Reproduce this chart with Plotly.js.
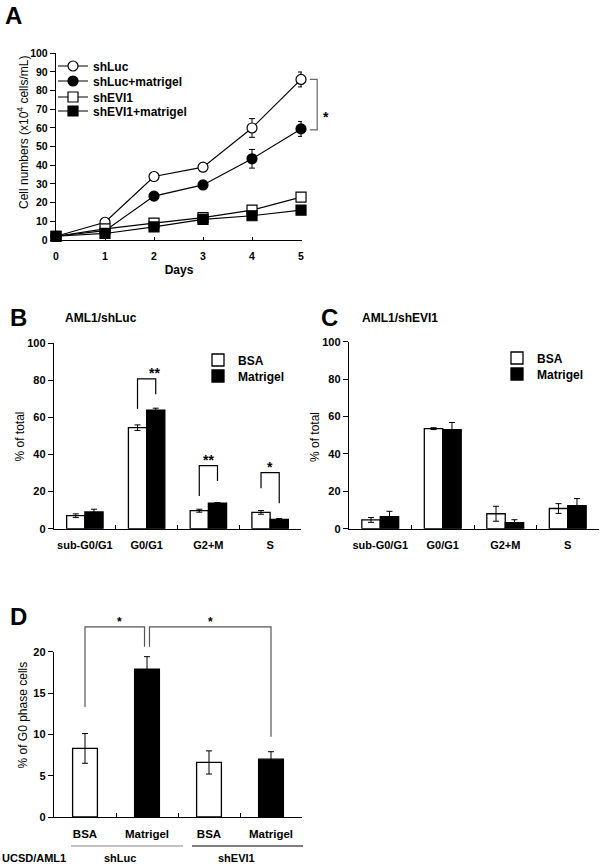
<!DOCTYPE html>
<html><head><meta charset="utf-8">
<script src="https://cdn.plot.ly/plotly-3.0.1.min.js"></script>
<style>html,body{margin:0;padding:0;background:#fff}#chart{width:603px;height:866px}</style>
</head><body><div id="chart"></div>
<script>
// ---- Panel A data ----
const days = [0, 1, 2, 3, 4, 5];
const shLuc = [2, 9.5, 34, 39, 60, 86];
const shLucErr = [0.5, 1, 1.2, 0.8, 5, 4];
const shLucMat = [2, 5, 23.5, 29.5, 43.5, 59.5];
const shLucMatErr = [0.5, 0.8, 1.5, 1, 5, 4];
const shEVI1 = [2, 6, 9, 12, 16, 23];
const shEVI1Err = [0.5, 0.5, 0.8, 0.8, 1, 1];
const shEVI1Mat = [2, 3.5, 7, 11, 13, 16];
const shEVI1MatErr = [0.5, 0.8, 1, 1, 1, 1];

// ---- Panels B / C data ----
const phases = ['sub-G0/G1', 'G0/G1', 'G2+M', 'S'];
const bBSA = [7, 54.5, 9.7, 8.8];
const bBSAErr = [1, 1.5, 0.8, 1];
const bMat = [9, 64, 13.8, 5];
const bMatErr = [1.5, 1, 0.3, 0.5];
const cBSA = [4.7, 53.5, 8, 10.8];
const cBSAErr = [1.3, 0.5, 4, 2.6];
const cMat = [6.5, 53, 3.3, 12.3];
const cMatErr = [2.8, 3.8, 1.5, 3.8];

// ---- Panel D data ----
const dGroups = ['shLuc BSA', 'shLuc Matrigel', 'shEVI1 BSA', 'shEVI1 Matrigel'];
const dLabels = ['BSA', 'Matrigel', 'BSA', 'Matrigel'];
const dColors = ['#ffffff', '#000000', '#ffffff', '#000000'];
const dG0 = [8.3, 17.9, 6.6, 7.0];
const dG0Err = [1.8, 1.5, 1.4, 0.9];

const W = 603, H = 866;
const fx = p => p / W;
const fy = p => 1 - p / H;
const FONT = 'Liberation Sans, Arial, sans-serif';

const dom = {
  xA: [fx(56), fx(302)], yA: [fy(240), fy(53.3)], rxA: [0, 5.02], ryA: [0, 100],
  xB: [fx(54), fx(301)], yB: [fy(528.7), fy(343.3)], rxB: [-0.5, 3.5], ryB: [0, 100],
  xC: [fx(349), fx(599)], yC: [fy(528.7), fy(341.7)], rxC: [-0.5, 3.5], ryC: [0, 100],
  xD: [fx(54), fx(302)], yD: [fy(817), fy(651.7)], rxD: [-0.5, 3.5], ryD: [0, 20]
};
const map = (d, r, v) => d[0] + (v - r[0]) / (r[1] - r[0]) * (d[1] - d[0]);

const BARGAP = 0.41;
const half = (1 - BARGAP) / 4; // offset of each bar center in a pair

const errStyle = (arr) => ({type: 'data', array: arr, visible: true, color: '#000', thickness: 1, width: 3});

const traces = [];
const lineStyle = {color: '#000', width: 1.2};
traces.push({x: days, y: shLuc, name: 'shLuc', mode: 'lines+markers', line: lineStyle, cliponaxis: false,
  marker: {symbol: 'circle', size: 10, color: '#fff', line: {color: '#000', width: 1.2}}, error_y: errStyle(shLucErr), xaxis: 'x', yaxis: 'y', legend: 'legend'});
traces.push({x: days, y: shLucMat, name: 'shLuc+matrigel', mode: 'lines+markers', line: lineStyle, cliponaxis: false,
  marker: {symbol: 'circle', size: 10, color: '#000', line: {color: '#000', width: 1.2}}, error_y: errStyle(shLucMatErr), xaxis: 'x', yaxis: 'y', legend: 'legend4'});
traces.push({x: days, y: shEVI1, name: 'shEVI1', mode: 'lines+markers', line: lineStyle, cliponaxis: false,
  marker: {symbol: 'square', size: 10, color: '#fff', line: {color: '#000', width: 1.2}}, error_y: errStyle(shEVI1Err), xaxis: 'x', yaxis: 'y', legend: 'legend5'});
traces.push({x: days, y: shEVI1Mat, name: 'shEVI1+matrigel', mode: 'lines+markers', line: lineStyle, cliponaxis: false,
  marker: {symbol: 'square', size: 10, color: '#000', line: {color: '#000', width: 1.2}}, error_y: errStyle(shEVI1MatErr), xaxis: 'x', yaxis: 'y', legend: 'legend6'});

const barLine = {color: '#000', width: 1.3};
traces.push({type: 'bar', x: phases, y: bBSA, name: 'BSA', marker: {color: '#fff', line: barLine}, error_y: errStyle(bBSAErr), xaxis: 'x2', yaxis: 'y2', legend: 'legend2'});
traces.push({type: 'bar', x: phases, y: bMat, name: 'Matrigel', marker: {color: '#000', line: barLine}, error_y: errStyle(bMatErr), xaxis: 'x2', yaxis: 'y2', legend: 'legend7'});
traces.push({type: 'bar', x: phases, y: cBSA, name: 'BSA', marker: {color: '#fff', line: barLine}, error_y: errStyle(cBSAErr), xaxis: 'x3', yaxis: 'y3', legend: 'legend3'});
traces.push({type: 'bar', x: phases, y: cMat, name: 'Matrigel', marker: {color: '#000', line: barLine}, error_y: errStyle(cMatErr), xaxis: 'x3', yaxis: 'y3', legend: 'legend8'});
traces.push({type: 'bar', x: dGroups, y: dG0, width: 0.4, showlegend: false, marker: {color: dColors, line: barLine}, error_y: errStyle(dG0Err), xaxis: 'x4', yaxis: 'y4'});

const tickFont = (s) => ({family: FONT, size: s, color: '#000', weight: 'bold'});
const baseAx = {showline: true, linecolor: '#000', linewidth: 1.2, showgrid: false, zeroline: false, fixedrange: true};
const xCat = (d, r) => Object.assign({}, baseAx, {domain: d, range: r, type: 'category', ticks: 'inside', ticklen: 4, tickcolor: '#000', tickson: 'boundaries', tickangle: 0, tickfont: tickFont(11), ticklabelstandoff: 6});
const yLin = (d, r, dt) => Object.assign({}, baseAx, {domain: d, range: r, dtick: dt, ticks: 'outside', ticklen: 5, tickcolor: '#000', tickfont: tickFont(11)});

const shapes = [];
const annotations = [];
function bracket(xd, yd, rx, ry, xL, yL, yTop, xR, yR, color, star, starSize) {
  shapes.push({type: 'path', xref: 'paper', yref: 'paper', line: {color: color, width: 1.2},
    path: `M${map(xd, rx, xL)},${map(yd, ry, yL)} L${map(xd, rx, xL)},${map(yd, ry, yTop)} L${map(xd, rx, xR)},${map(yd, ry, yTop)} L${map(xd, rx, xR)},${map(yd, ry, yR)}`});
  annotations.push({xref: 'paper', yref: 'paper', x: map(xd, rx, (xL + xR) / 2), y: map(yd, ry, yTop), yanchor: 'bottom', yshift: -4, showarrow: false,
    text: star, font: {family: FONT, size: starSize, color: '#000', weight: 'bold'}});
}
// Panel B significance brackets (category index, left/top/right heights)
bracket(dom.xB, dom.yB, dom.rxB, dom.ryB, 1 - half, 64.6, 80.8, 1 + half, 72.5, '#000', '**', 14);
bracket(dom.xB, dom.yB, dom.rxB, dom.ryB, 2 - half, 17.6, 34, 2 + half, 25.7, '#000', '**', 14);
bracket(dom.xB, dom.yB, dom.rxB, dom.ryB, 3 - half, 21.8, 30.2, 3 + half, 13.7, '#000', '*', 14);
// Panel D brackets
bracket(dom.xD, dom.yD, dom.rxD, dom.ryD, 0, 13.3, 23, 0.96, 20.6, '#555', '*', 12);
bracket(dom.xD, dom.yD, dom.rxD, dom.ryD, 1.04, 20.6, 23, 3, 9.7, '#555', '*', 12);
// Panel A bracket (right of the day-5 points)
shapes.push({type: 'path', xref: 'paper', yref: 'paper', line: {color: '#666', width: 1.2},
  path: `M${map(dom.xA, dom.rxA, 5.18)},${map(dom.yA, dom.ryA, 86)} L${map(dom.xA, dom.rxA, 5.33)},${map(dom.yA, dom.ryA, 86)} L${map(dom.xA, dom.rxA, 5.33)},${map(dom.yA, dom.ryA, 59)} L${map(dom.xA, dom.rxA, 5.18)},${map(dom.yA, dom.ryA, 59)}`});
annotations.push({xref: 'paper', yref: 'paper', x: map(dom.xA, dom.rxA, 5.51), y: map(dom.yA, dom.ryA, 71), showarrow: false, text: '*', font: {family: FONT, size: 14, color: '#000', weight: 'bold'}});

// Panel D group underlines
shapes.push({type: 'line', xref: 'paper', yref: 'paper', x0: fx(71), x1: fx(183), y0: fy(846), y1: fy(846), line: {color: '#888', width: 1.2}});
shapes.push({type: 'line', xref: 'paper', yref: 'paper', x0: fx(192), x1: fx(303), y0: fy(846), y1: fy(846), line: {color: '#000', width: 1.2}});

const txt = (x, y, text, size, anchor, weight, angle) => ({xref: 'paper', yref: 'paper', x: fx(x), y: fy(y), xanchor: anchor || 'center', yanchor: 'middle', showarrow: false, text: text,
  textangle: angle || 0, font: {family: FONT, size: size, color: '#000', weight: weight || 'bold'}});
annotations.push(txt(14, 16, 'A', 24));
annotations.push(txt(18, 317, 'B', 24));
annotations.push(txt(330, 317, 'C', 24));
annotations.push(txt(18, 616, 'D', 24));
annotations.push(txt(101, 318, 'AML1/shLuc', 12));
annotations.push(txt(400, 318, 'AML1/shEVI1', 12));
annotations.push(txt(0, 858, 'UCSD/AML1', 11, 'left'));
annotations.push(txt(120, 858, 'shLuc', 11));
annotations.push(txt(236, 858, 'shEVI1', 11));
// y-axis titles
annotations.push(txt(23, 133, 'Cell numbers (x10<sup>4</sup> cells/mL)', 12, 'center', 'normal', -90));
annotations.push(txt(19.5, 437, '% of total', 12, 'center', 'normal', -90));
annotations.push(txt(315, 437, '% of total', 12, 'center', 'normal', -90));
annotations.push(txt(22.5, 715, '% of G0 phase cells', 12, 'center', 'normal', -90));

const legendBase = {bgcolor: 'rgba(0,0,0,0)', borderwidth: 0, xanchor: 'left', yanchor: 'middle', itemwidth: 30, tracegroupgap: 0,
  font: {family: FONT, size: 12, color: '#000', weight: 'bold'}, itemclick: false, itemdoubleclick: false};
const leg = (x, y) => Object.assign({}, legendBase, {x: fx(x), y: fy(y)});

const layout = {
  width: W, height: H, margin: {l: 0, r: 0, t: 0, b: 0}, paper_bgcolor: '#fff', plot_bgcolor: 'rgba(0,0,0,0)',
  barmode: 'group', bargap: BARGAP, bargroupgap: 0, showlegend: true,
  font: {family: FONT, color: '#000'},
  xaxis: Object.assign({}, baseAx, {domain: dom.xA, range: dom.rxA, anchor: 'y', tickvals: days, ticks: 'inside', ticklen: 3, tickcolor: '#000', tickfont: tickFont(10.5), ticklabelstandoff: 6,
    title: {text: 'Days', font: {family: FONT, size: 12, color: '#000', weight: 'bold'}, standoff: 4}}),
  yaxis: Object.assign(yLin(dom.yA, dom.ryA, 10), {anchor: 'x', tickfont: tickFont(10.5)}),
  xaxis2: Object.assign(xCat(dom.xB, dom.rxB), {anchor: 'y2'}),
  yaxis2: Object.assign(yLin(dom.yB, dom.ryB, 20), {anchor: 'x2'}),
  xaxis3: Object.assign(xCat(dom.xC, dom.rxC), {anchor: 'y3'}),
  yaxis3: Object.assign(yLin(dom.yC, dom.ryC, 20), {anchor: 'x3'}),
  xaxis4: Object.assign(xCat(dom.xD, dom.rxD), {anchor: 'y4', tickmode: 'array', tickvals: dGroups, ticktext: dLabels, tickfont: tickFont(11.5)}),
  yaxis4: Object.assign(yLin(dom.yD, dom.ryD, 5), {anchor: 'x4'}),
  legend: leg(53, 66), legend4: leg(53, 81), legend5: leg(53, 97), legend6: leg(53, 111),
  legend2: leg(198, 360), legend7: leg(198, 376),
  legend3: leg(497, 358), legend8: leg(497, 374),
  shapes: shapes, annotations: annotations
};

Plotly.newPlot('chart', traces, layout, {staticPlot: true, displayModeBar: false});
</script>
</body></html>
